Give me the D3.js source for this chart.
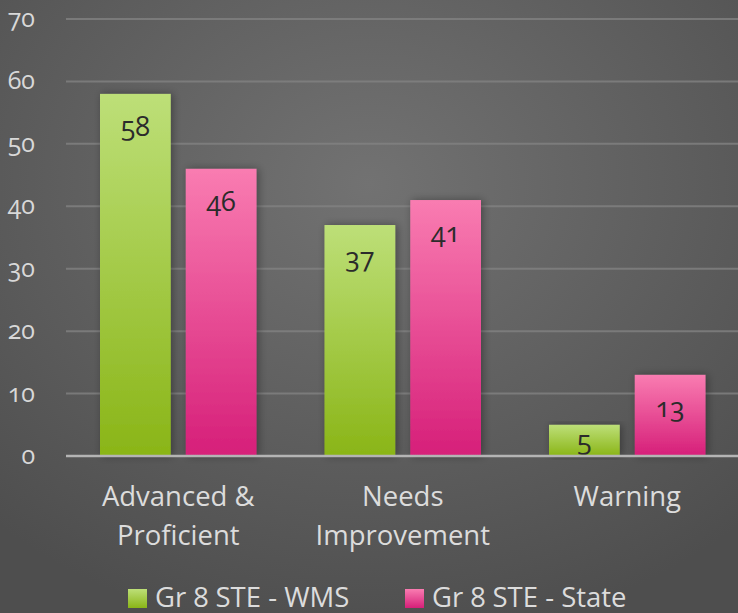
<!DOCTYPE html>
<html>
<head>
<meta charset="utf-8">
<script src="https://cdn.jsdelivr.net/npm/d3@7"></script>
<style>
  html, body { margin: 0; padding: 0; background: #5a5a5a; }
  svg, svg text { font-family: "Open Sans", sans-serif; font-variant-numeric: oldstyle-nums; font-feature-settings: "onum" 1; }
  svg { display: block; }
</style>
</head>
<body>
<svg id="chart" width="738" height="613"></svg>
<script>
const categories = [["Advanced &", "Proficient"], ["Needs", "Improvement"], ["Warning"]];
const categoryKeys = ["Advanced & Proficient", "Needs Improvement", "Warning"];
const seriesNames = ["Gr 8 STE - WMS", "Gr 8 STE - State"];
const wmsValues = [58, 37, 5];
const stateValues = [46, 41, 13];
const yTicks = [0, 10, 20, 30, 40, 50, 60, 70];

const W = 738, H = 613;
const svg = d3.select("#chart");
const defs = svg.append("defs");

// background radial gradient
const bg = defs.append("radialGradient").attr("id", "bg")
  .attr("cx", "50%").attr("cy", "30%").attr("r", "75%");
bg.append("stop").attr("offset", "0%").attr("stop-color", "#727272");
bg.append("stop").attr("offset", "100%").attr("stop-color", "#4e4e4e");
svg.append("rect").attr("width", W).attr("height", H).attr("fill", "url(#bg)");

const gGreen = defs.append("linearGradient").attr("id", "gGreen").attr("x1", 0).attr("y1", 0).attr("x2", 0).attr("y2", 1);
gGreen.append("stop").attr("offset", "0%").attr("stop-color", "#bddf78");
gGreen.append("stop").attr("offset", "100%").attr("stop-color", "#8ab517");
const gPink = defs.append("linearGradient").attr("id", "gPink").attr("x1", 0).attr("y1", 0).attr("x2", 0).attr("y2", 1);
gPink.append("stop").attr("offset", "0%").attr("stop-color", "#f97cb1");
gPink.append("stop").attr("offset", "100%").attr("stop-color", "#d61f79");

const shadow = defs.append("filter").attr("id", "shadow").attr("x", "-30%").attr("y", "-10%").attr("width", "160%").attr("height", "120%");
shadow.append("feDropShadow").attr("dx", 2).attr("dy", 0).attr("stdDeviation", 4)
  .attr("flood-color", "#000").attr("flood-opacity", 0.35);

const mLeft = 66, mRight = 739.5, mTop = 19, mBottom = 456;
const y = d3.scaleLinear().domain([0, 70]).range([mBottom, mTop]);
const x0 = d3.scaleBand().domain(categoryKeys).range([mLeft, mRight]).paddingInner(0).paddingOuter(0);
const x1 = d3.scaleBand().domain(seriesNames).range([34, x0.bandwidth() - 34]).paddingInner(0.175).paddingOuter(0);

// gridlines
svg.append("g").selectAll("line").data(yTicks.filter(d => d > 0)).join("line")
  .attr("x1", mLeft).attr("x2", W).attr("y1", d => y(d)).attr("y2", d => y(d))
  .attr("stroke", "#828282").attr("stroke-width", 2).attr("opacity", 0.8);

// y axis labels
const yAxis = d3.axisLeft(y).tickValues(yTicks).tickSize(0).tickPadding(0).tickFormat(d3.format("d"));
const yg = svg.append("g").attr("transform", `translate(${mLeft - 31},0)`).call(yAxis);
yg.attr("font-family", null).attr("font-size", null);
yg.select(".domain").remove();
yg.selectAll("text").attr("fill", "#d8d8d8").attr("font-size", 25).attr("dy", "0.3em");

const colors = ["url(#gGreen)", "url(#gPink)"];
const data = categoryKeys.map((c, i) => ({ cat: c, vals: [
  { s: seriesNames[0], v: wmsValues[i], c: colors[0] },
  { s: seriesNames[1], v: stateValues[i], c: colors[1] }
]}));

const groups = svg.append("g").selectAll("g").data(data).join("g")
  .attr("transform", d => `translate(${x0(d.cat)},0)`);
groups.selectAll("rect").data(d => d.vals).join("rect")
  .attr("x", d => x1(d.s)).attr("width", x1.bandwidth())
  .attr("y", d => y(d.v)).attr("height", d => y(0) - y(d.v))
  .attr("fill", d => d.c).attr("filter", "url(#shadow)");
groups.selectAll("text").data(d => d.vals).join("text")
  .attr("x", d => x1(d.s) + x1.bandwidth() / 2)
  .attr("y", d => Math.min(y(d.v) + 33, (y(d.v) + y(0)) / 2))
  .attr("dy", "0.35em")
  .attr("text-anchor", "middle").attr("font-size", 27).attr("fill", "#2b2b2b")
  .text(d => d.v);

// axis baseline
svg.append("line").attr("x1", mLeft).attr("x2", W).attr("y1", mBottom).attr("y2", mBottom)
  .attr("stroke", "#b4b4b4").attr("stroke-width", 2.5);

// category labels
const xAxis = d3.axisBottom(x0).tickSize(0).tickFormat(() => "");
const xg = svg.append("g").attr("transform", `translate(0,${mBottom})`).call(xAxis);
xg.attr("font-family", null).attr("font-size", null);
xg.select(".domain").remove();
xg.selectAll(".tick").each(function(d, i) {
  const t = d3.select(this).append("text").attr("text-anchor", "middle")
    .attr("fill", "#dcdcdc").attr("font-size", 27.5);
  categories[i].forEach((line, j) => {
    t.append("tspan").attr("x", 0).attr("y", 50 + j * 39).text(line);
  });
});

// legend
const legendItems = [
  { name: seriesNames[0], c: colors[0], x: 128 },
  { name: seriesNames[1], c: colors[1], x: 405 }
];
const lg = svg.append("g").selectAll("g").data(legendItems).join("g")
  .attr("transform", d => `translate(${d.x},589)`);
lg.append("rect").attr("width", 19).attr("height", 19).attr("fill", d => d.c);
lg.append("text").attr("x", 27).attr("y", 18).attr("font-size", 27.5).attr("fill", "#dcdcdc")
  .text(d => d.name);
</script>
</body>
</html>
